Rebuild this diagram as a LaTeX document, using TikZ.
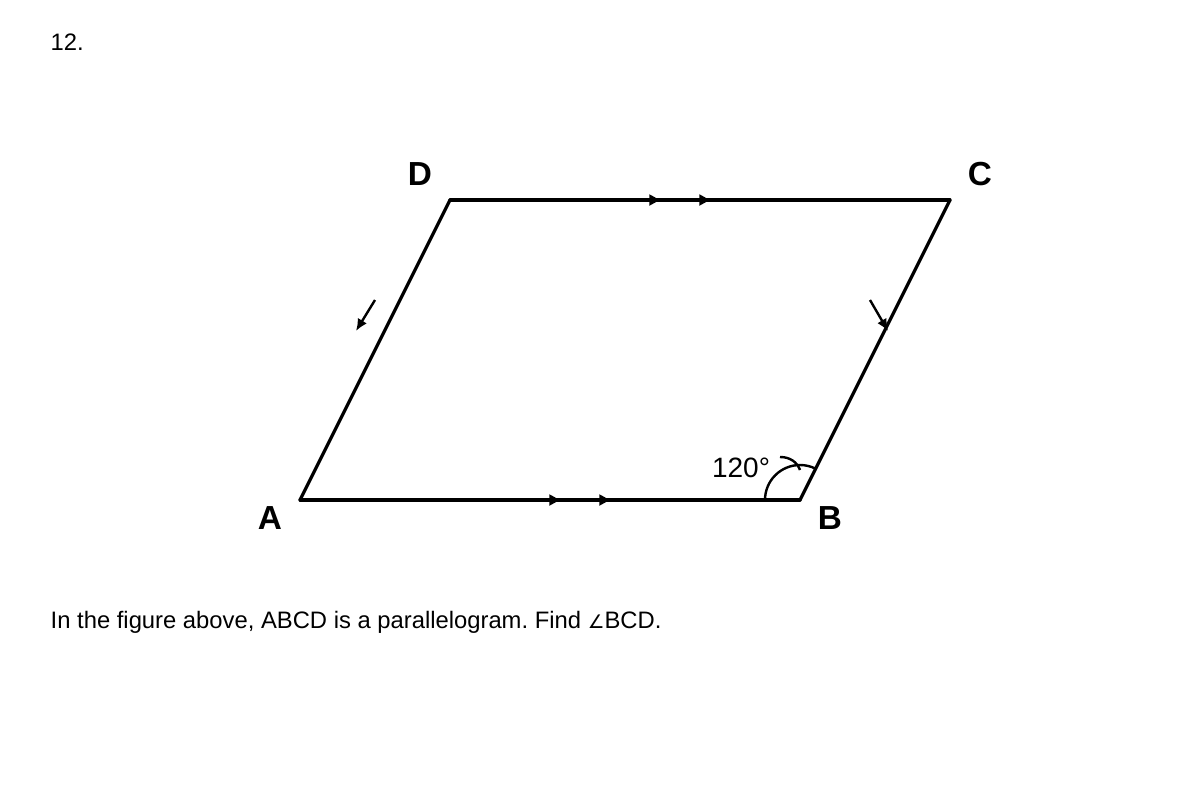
\documentclass[tikz,border=0pt]{standalone}
\usepackage{fontspec}
\setmainfont{Liberation Sans}
\newfontfamily\symfont{DejaVu Sans}
\usetikzlibrary{arrows.meta,decorations.markings}
\frenchspacing

\tikzset{
  side/.style={line width=2.4pt, line cap=round},
  parmark/.style={postaction={decorate, decoration={markings,
      mark=at position #1 with {\arrow{Triangle[length=8pt,width=8pt]}}}}},
  dirarrow/.style={line width=1.8pt, -{Latex[length=9pt,width=8pt]}},
  vlabel/.style={font=\fontsize{25}{30}\selectfont\bfseries},
  qtext/.style={font=\fontsize{17.85}{21}\selectfont, anchor=west}
}

\begin{document}
\begin{tikzpicture}[x=0.75pt, y=0.75pt]
            \useasboundingbox (0,0) rectangle (1200,-800);

            \coordinate (A) at (300,-500);
            \coordinate (B) at (800,-500);
            \coordinate (C) at (950,-200);
            \coordinate (D) at (450,-200);

            \node[vlabel] (lA) at (270,-518) {A};
            \node[vlabel] (lB) at (830,-518) {B};
            \node[vlabel] (lC) at (980,-174) {C};
            \node[vlabel] (lD) at (420,-174) {D};

            % sides of the parallelogram
            \draw[side, parmark=0.52, parmark=0.62] (A) -- (B);
            \draw[side, parmark=0.42, parmark=0.52] (D) -- (C);
            \draw[side] (B) -- (C);
            \draw[side] (D) -- (A);

            % arrows beside AD and BC
            \coordinate (p1) at (375,-300);
            \coordinate (q1) at (356,-331);
            \coordinate (p2) at (870,-300);
            \coordinate (q2) at (888,-331);
            \draw[dirarrow] (p1) -- (q1);
            \draw[dirarrow] (p2) -- (q2);

            % angle at B
            \draw[line width=1.8pt] ([xshift=-35*0.75pt]B) arc[start angle=180, end angle=64, radius=35];
            \node[font=\fontsize{21}{25}\selectfont] (ang) at (741,-468) {120°};
            \coordinate (h1) at (780,-457);
            \coordinate (h2) at (800,-470);
            \draw[line width=1.8pt] (h1) .. controls (790,-457) and (797,-462) .. (h2);

            \node[qtext] (num) at (46,-42) {12.};
            \node[qtext] (task) at (46,-622) {In the figure above, ABCD is a parallelogram. Find {\symfont\fontsize{14}{17}\selectfont ∠}BCD.};
        \end{tikzpicture}
\end{document}
